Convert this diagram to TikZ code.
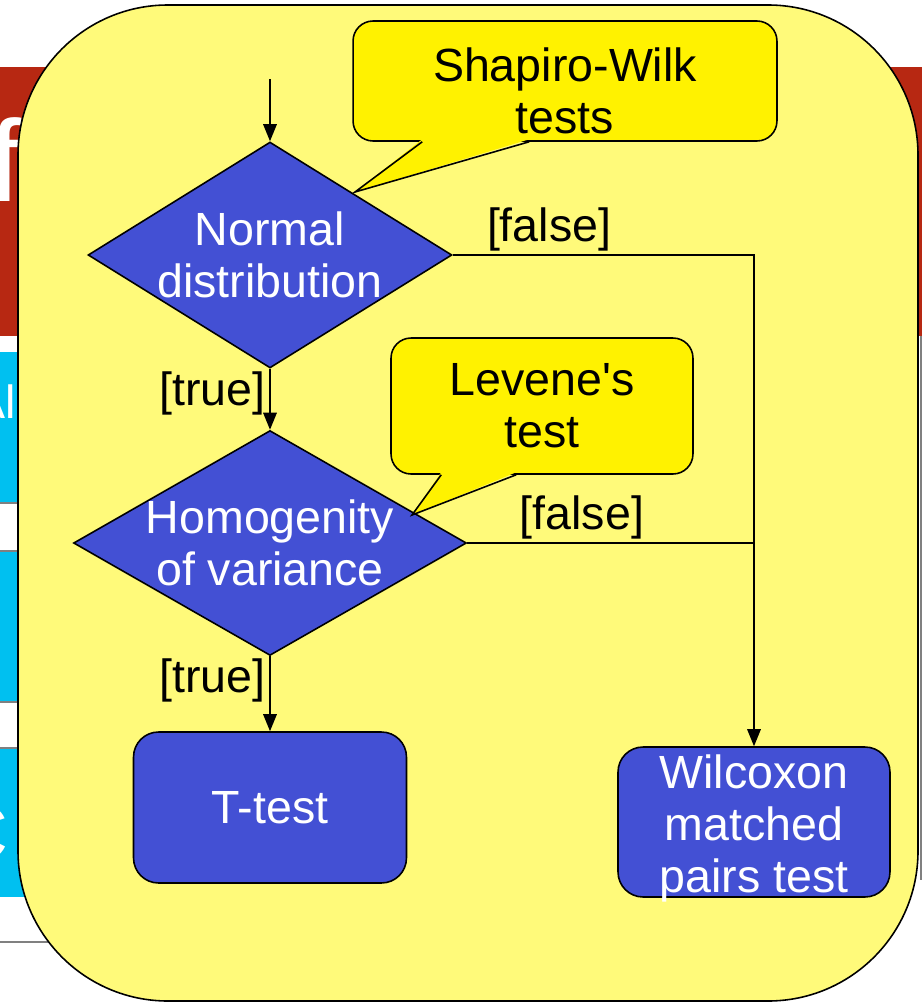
\documentclass[tikz,border=0pt]{standalone}
\usepackage{fontspec}
\setmainfont{Liberation Sans}[Ligatures=TeXOff]
\usetikzlibrary{arrows.meta,shapes.geometric}
\definecolor{slide}{RGB}{255,250,122}
\definecolor{flow}{RGB}{67,80,212}
\definecolor{bar}{RGB}{183,40,18}
\definecolor{sky}{RGB}{0,192,240}
\begin{document}
\begin{tikzpicture}[x=0.02cm, y=-0.02cm, font=\fontsize{26.5}{29.6}\selectfont]

\tikzstyle{dec}=[diamond, draw, fill=flow, line width=0.9pt, inner sep=0pt]
\tikzstyle{act}=[rectangle, rounded corners=0.5cm, draw, fill=flow, line width=0.9pt, text=white, align=center]
\tikzstyle{wtxt}=[text=white, align=center, inner sep=0pt]
\tikzstyle{note}=[rectangle, rounded corners=0.4cm, draw, fill=yellow, line width=0.9pt]
\tikzstyle{btxt}=[align=center, inner sep=0pt]
\tikzstyle{lbl}=[inner sep=2pt]
\tikzstyle{bg}=[text=white, anchor=east, inner sep=0pt]
\tikzstyle{arrow}=[-{Triangle[length=0.34cm,width=0.27cm]}, line width=0.9pt]
\tikzstyle{line}=[line width=0.9pt]

% slide behind the box
\clip (0,0) rectangle (922,1004);
\fill[white] (0,0) rectangle (922,1004);
\fill[bar] (0,67) rectangle (922,336);
\foreach \ya/\yb in {352/503, 551/702, 748/897}
  \fill[sky] (0,\ya) rectangle (60,\yb);
\foreach \y in {503,551,702,748,942}
  \draw[gray, line width=0.6pt] (0,\y) -- (60,\y);
\draw[gray, line width=0.6pt] (921,336) -- (921,880);
\node (tf) [bg, font=\fontsize{66}{66}\selectfont] at (22,160) {f};
\node (ta) [bg] at (16,402) {Al};
\node (tc) [bg, font=\fontsize{45}{45}\selectfont] at (9,833) {C};

\draw[fill=slide, line width=0.9pt, rounded corners=3cm] (18,5) rectangle (918,1001);

\node (dia1) [dec, minimum width=7.28cm, minimum height=4.52cm, label={[wtxt]center:Normal\\distribution}] at (270,255) {};
\node (dia2) [dec, minimum width=7.86cm, minimum height=4.5cm, label={[wtxt]center:Homogenity\\of variance}] at (270,543) {};
\node (tt) [act, minimum width=5.46cm, minimum height=3.02cm] at (270,807.5) {T-test};
\node (wil) [act, minimum width=5.44cm, minimum height=3cm, label={[wtxt, yshift=-0.12cm]center:Wilcoxon\\matched\\pairs test}] at (754,822) {};
\coordinate (start) at (270,79);

\draw[arrow] (start) -- (dia1.north);
\draw[arrow] (dia1.south) -- node[lbl, left, pos=0.4] {[true]} (dia2.north);
\draw[arrow] (dia2.south) -- node[lbl, left, pos=0.32] {[true]} (tt.north);
\draw[arrow] (dia1.east) -| node[lbl, above, pos=0.16] {[false]} (wil.north);
\draw[line] (dia2.east) -- node[lbl, above, pos=0.4] {[false]} (dia2.east -| wil.north);

% callouts
\node (sw) [note, minimum width=8.48cm, minimum height=2.4cm, label={[btxt, yshift=-0.2cm]center:Shapiro-Wilk\\tests}] at (565,81) {};
\coordinate (swtip) at (355,192);
\fill[yellow] ([xshift=1.4cm, yshift=0.05cm]sw.south west) -- (swtip) -- ([xshift=3.54cm, yshift=0.05cm]sw.south west) -- cycle;
\draw[line] ([xshift=1.4cm]sw.south west) -- (swtip) -- ([xshift=3.54cm]sw.south west);

\node (lv) [note, minimum width=6.04cm, minimum height=2.72cm, label={[btxt]center:Levene's\\test}] at (542,406) {};
\coordinate (lvtip) at (412,515);
\fill[yellow] ([xshift=1.02cm, yshift=0.05cm]lv.south west) -- (lvtip) -- ([xshift=2.52cm, yshift=0.05cm]lv.south west) -- cycle;
\draw[line] ([xshift=1.02cm]lv.south west) -- (lvtip) -- ([xshift=2.52cm]lv.south west);

\end{tikzpicture}
\end{document}
